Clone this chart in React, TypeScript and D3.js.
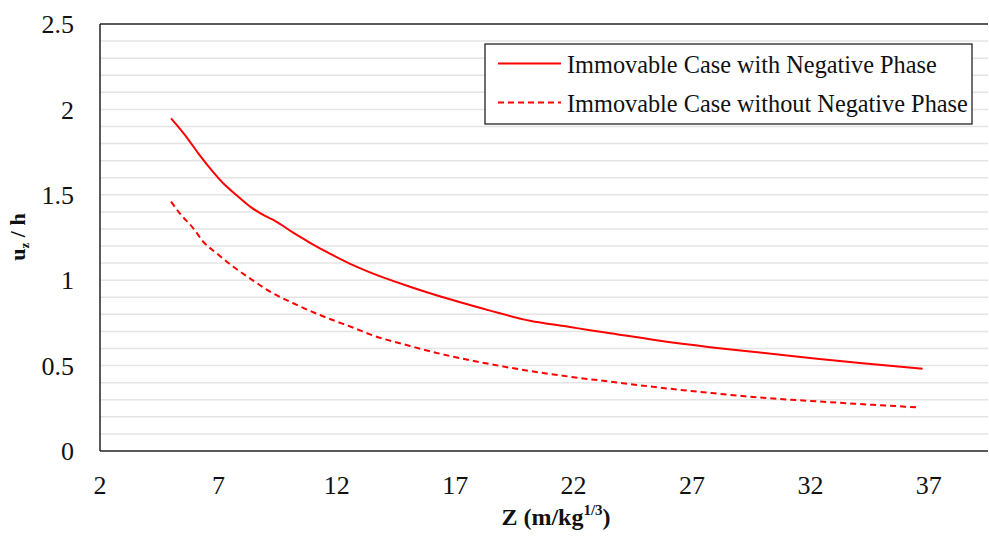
import React from "react";
import * as d3 from "d3";

const xTicks = [2, 7, 12, 17, 22, 27, 32, 37];
const yTicks = [0, 0.5, 1, 1.5, 2, 2.5];
const yTickLabels = ["0", "0.5", "1", "1.5", "2", "2.5"];
const gridValues = d3.range(1, 25).map((i) => i / 10);

const withNegX = [5, 5.59, 6.15, 6.71, 7.28, 7.84, 8.4, 8.97, 9.39, 10.16, 10.8, 11.71, 12.5, 13.4, 15.09, 16.78, 18.47, 20.16, 21.85, 22.69, 23.54, 25.65, 27.76, 29.87, 31.98, 34.09, 36.74];
const withNegY = [1.948, 1.85, 1.743, 1.645, 1.557, 1.489, 1.425, 1.376, 1.348, 1.278, 1.225, 1.155, 1.1, 1.046, 0.962, 0.888, 0.822, 0.762, 0.726, 0.707, 0.69, 0.645, 0.608, 0.576, 0.545, 0.515, 0.482];

const withoutNegX = [5, 5.38, 5.94, 6.36, 6.93, 7.63, 8.33, 9.18, 10.16, 11.29, 11.71, 12.77, 13.4, 15.09, 16.78, 18.47, 20.16, 21.85, 23.54, 25.65, 27.76, 29.87, 31.98, 34.09, 36.49];
const withoutNegY = [1.46, 1.39, 1.304, 1.225, 1.157, 1.079, 1.011, 0.933, 0.865, 0.796, 0.773, 0.718, 0.683, 0.615, 0.556, 0.509, 0.468, 0.435, 0.406, 0.371, 0.34, 0.313, 0.293, 0.275, 0.256];

const seriesNames = ["Immovable Case with Negative Phase", "Immovable Case without Negative Phase"];

const W = 989;
const H = 538;
const left = 100;
const right = 988;
const top = 24;
const bottom = 451;
const FONT = "Liberation Serif, Times New Roman, Tinos, DejaVu Serif, serif";
const txt = { fontFamily: FONT };

export default function App() {
  const x = d3.scaleLinear().domain([2, 39.5]).range([left, right]);
  const y = d3.scaleLinear().domain([0, 2.5]).range([bottom, top]);
  const line = d3
    .line<[number, number]>()
    .x((d) => x(d[0]))
    .y((d) => y(d[1]))
    .curve(d3.curveMonotoneX);
  const s1 = line(withNegX.map((v, i) => [v, withNegY[i]] as [number, number])) || "";
  const s2 = line(withoutNegX.map((v, i) => [v, withoutNegY[i]] as [number, number])) || "";

  return (
    <svg width={W} height={H} style={{ position: "absolute", left: 0, top: 0, background: "#fff", fontFamily: FONT }}>
      <rect x={0} y={0} width={W} height={H} fill="#fff" />
      {gridValues.map((g) => (
        <line key={g} x1={left} x2={right} y1={y(g)} y2={y(g)} stroke="#e4e4e4" strokeWidth={1.5} />
      ))}
      <path d={s1} fill="none" stroke="#ff0000" strokeWidth={2} />
      <path d={s2} fill="none" stroke="#ff0000" strokeWidth={2} strokeDasharray="6,4" />
      {/* frame */}
      <line x1={left} x2={left} y1={top} y2={bottom} stroke="#222" strokeWidth={1.5} />
      <line x1={left} x2={right} y1={top} y2={top} stroke="#222" strokeWidth={1.5} />
      <line x1={left} x2={right} y1={bottom} y2={bottom} stroke="#222" strokeWidth={1.5} />
      {/* y ticks */}
      {yTicks.map((t, i) => (
        <text key={t} style={txt} x={74} y={y(t)} dy="0.35em" textAnchor="end" fontSize={26} fill="#111">
          {yTickLabels[i]}
        </text>
      ))}
      {/* x ticks */}
      {xTicks.map((t) => (
        <text key={t} style={txt} x={x(t)} y={485} dy="0.35em" textAnchor="middle" fontSize={26} fill="#111">
          {t}
        </text>
      ))}
      {/* axis titles */}
      <text style={txt} x={556} y={525} textAnchor="middle" fontSize={24} fontWeight="bold" fill="#111">
        Z (m/kg<tspan dy={-10} fontSize={15}>1/3</tspan>
        <tspan dy={10}>)</tspan>
      </text>
      <text style={txt} transform={`translate(25,237) rotate(-90)`} textAnchor="middle" fontSize={22} fontWeight="bold" fill="#111">
        u<tspan dy={4} fontSize={13}>z</tspan>
        <tspan dy={-4}> / h</tspan>
      </text>
      {/* legend */}
      <rect x={485} y={44} width={487} height={80} fill="#fff" stroke="#111" strokeWidth={1.2} />
      <line x1={498} x2={561} y1={63.5} y2={63.5} stroke="#ff0000" strokeWidth={2} />
      <line x1={498} x2={561} y1={102.5} y2={102.5} stroke="#ff0000" strokeWidth={2} strokeDasharray="6,4" />
      <text style={txt} x={567} y={72.5} fontSize={24.3} fill="#111">{seriesNames[0]}</text>
      <text style={txt} x={567} y={111.5} fontSize={24.3} fill="#111">{seriesNames[1]}</text>
    </svg>
  );
}
